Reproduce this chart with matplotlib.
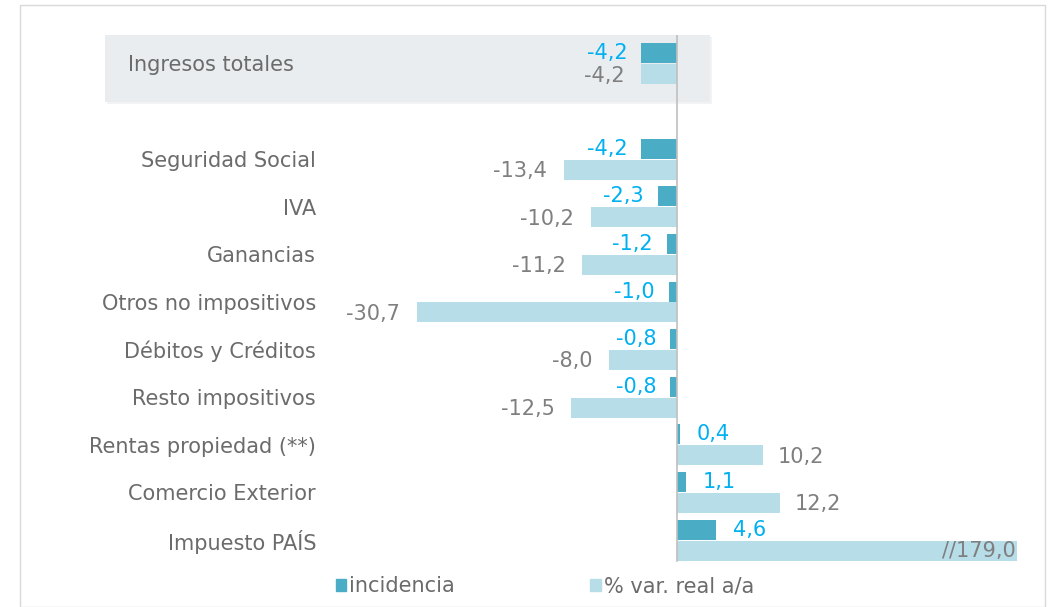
import numpy as np
import matplotlib.pyplot as plt
from matplotlib.patches import Rectangle

plt.rcParams['font.family'] = ['DejaVu Sans']

# data
categorias = ['Ingresos totales', 'Seguridad Social', 'IVA', 'Ganancias',
              'Otros no impositivos', 'Débitos y Créditos', 'Resto impositivos',
              'Rentas propiedad (**)', 'Comercio Exterior', 'Impuesto PAÍS']
incidencia = [-4.2, -4.2, -2.3, -1.2, -1.0, -0.8, -0.8, 0.4, 1.1, 4.6]
var_real = [-4.2, -13.4, -10.2, -11.2, -30.7, -8.0, -12.5, 10.2, 12.2, 179.0]
corte = 40.2  # la barra de 179,0 se muestra cortada

# row positions: total on top, one empty row, then the rest
pos = np.array([0] + list(range(2, 2 + len(categorias) - 1)))

c_inc = '#4bacc6'
c_var = '#b7dde8'
t_inc = '#00b0f0'
t_var = '#7f7f7f'
t_cat = '#6b6b6b'
fs = 15

fmt = lambda v: f'{v:.1f}'.replace('.', ',')

fig = plt.figure(figsize=(10.52, 6.07), dpi=100)
W, H = 1052, 607

# outer frame and shaded box for the total
fig.patches.append(Rectangle((20 / W, 0), 1025 / W, 1 - 5 / H, transform=fig.transFigure,
                             fill=False, edgecolor='#d9d9d9', lw=1, zorder=-2))
fig.patches.append(Rectangle((107 / W, 1 - 104 / H), 605 / W, 67 / H, transform=fig.transFigure,
                             facecolor='#f1f3f5', edgecolor='none', zorder=-2))
fig.patches.append(Rectangle((105 / W, 1 - 102 / H), 605 / W, 67 / H, transform=fig.transFigure,
                             facecolor='#e9edf0', edgecolor='none', zorder=-1))

ax = fig.add_axes([330 / W, 1 - 568.6 / H, 710 / W, (568.6 - 35.4) / H])
ax.patch.set_alpha(0)

var_plot = [min(v, corte) for v in var_real]
h = 0.42
ax.barh(pos - 0.22, incidencia, height=h, color=c_inc, zorder=2)
ax.barh(pos + 0.22, var_plot, height=h, color=c_var, zorder=2)
ax.plot([0, 0], [-0.6, pos[-1] + 0.44], color='#bfbfbf', lw=1.2, zorder=3)

ax.set_xlim(-40.97, 42.86)
ax.set_ylim(pos[-1] + 0.6, -0.6)

for p, a, b, bp in zip(pos, incidencia, var_real, var_plot):
    if a < 0:
        ax.annotate(fmt(a), (a, p - 0.22), xytext=(-10, 0), textcoords='offset points',
                    ha='right', va='center', color=t_inc, fontsize=fs)
    else:
        ax.annotate(fmt(a), (a, p - 0.22), xytext=(12, 0), textcoords='offset points',
                    ha='left', va='center', color=t_inc, fontsize=fs)
    if b > corte:
        ax.annotate('//' + fmt(b), (bp, p + 0.22), xytext=(-1, 0), textcoords='offset points',
                    ha='right', va='center', color=t_var, fontsize=fs)
    elif b < 0:
        ax.annotate(fmt(b), (b, p + 0.22), xytext=(-12, -1), textcoords='offset points',
                    ha='right', va='center', color=t_var, fontsize=fs)
    else:
        ax.annotate(fmt(b), (b, p + 0.22), xytext=(10, -1), textcoords='offset points',
                    ha='left', va='center', color=t_var, fontsize=fs)

ax.set_yticks(pos[1:])
ax.set_yticklabels(categorias[1:], color=t_cat, fontsize=fs)
ax.tick_params(axis='y', length=0, pad=10)
ax.set_xticks([])
for s in ax.spines.values():
    s.set_visible(False)

fig.text(128 / W, 1 - 65 / H, categorias[0], ha='left', va='center', color=t_cat, fontsize=fs)

hs = [Rectangle((0, 0), 1, 1, color=c_inc), Rectangle((0, 0), 1, 1, color=c_var)]
leg = fig.legend(hs, ['incidencia', '% var. real a/a'], loc='center',
                 bbox_to_anchor=(545 / W, 1 - 586 / H), ncol=2, frameon=False,
                 handlelength=0.5, handleheight=0.5, handletextpad=0.15,
                 columnspacing=6.5, fontsize=fs)
for t in leg.get_texts():
    t.set_color(t_cat)

fig.savefig('out.png', dpi=100)
